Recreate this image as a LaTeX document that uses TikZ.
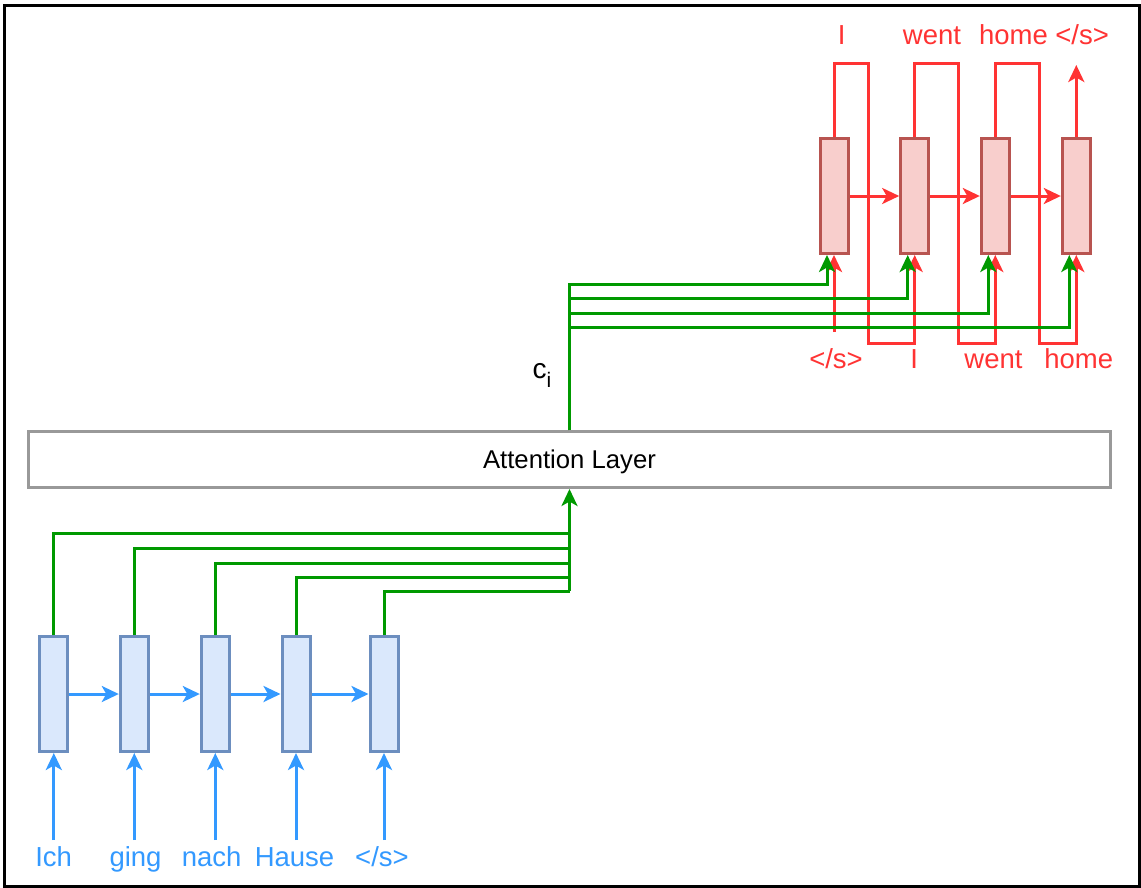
\documentclass[tikz,border=0pt]{standalone}
\usepackage{fontspec}
\setmainfont{Liberation Sans}
\usetikzlibrary{arrows.meta}
\definecolor{encfill}{HTML}{DAE8FC}
\definecolor{encdraw}{HTML}{6C8EBF}
\definecolor{decfill}{HTML}{F8CECC}
\definecolor{decdraw}{HTML}{B85450}
\definecolor{blu}{HTML}{3399FF}
\definecolor{rd}{HTML}{FF3333}
\definecolor{grn}{HTML}{009900}
\definecolor{attgray}{HTML}{999999}
\begin{document}
\begin{tikzpicture}[x=1pt,y=-1pt,
  tip/.style={-{Stealth[length=17pt,width=16pt,inset=4.5pt]}},
  encbox/.style={draw=encdraw, fill=encfill, line width=3pt, minimum width=28pt, minimum height=115pt, inner sep=0pt},
  decbox/.style={draw=decdraw, fill=decfill, line width=3pt, minimum width=28pt, minimum height=115pt, inner sep=0pt},
  lab/.style={font=\fontsize{27.5}{32}\selectfont, anchor=base, inner sep=0pt},
  bline/.style={draw=blu, line width=3pt, tip},
  rline/.style={draw=rd, line width=3pt},
  gline/.style={draw=grn, line width=3pt},
]
\useasboundingbox (0,0) rectangle (1141,887);
\draw[line width=3pt, black] (4,5) rectangle (1139,886);

% attention layer
\node[draw=attgray, line width=3pt, minimum width=1082pt, minimum height=56pt, inner sep=0pt,
      font=\fontsize{25.7}{30}\selectfont, text height=18.4pt, text depth=0pt] (att) at (569.5,459.5) {Attention Layer};

% encoder
\node[encbox] (e1) at (53.8,694) {};
\node[encbox] (e2) at (134.3,694) {};
\node[encbox] (e3) at (215.3,694) {};
\node[encbox] (e4) at (296,694) {};
\node[encbox] (e5) at (384,694) {};

\node[lab, text=blu] (i1) at (53.6,866) {Ich};
\node[lab, text=blu] (i2) at (135.5,866) {ging};
\node[lab, text=blu] (i3) at (211.7,866) {nach};
\node[lab, text=blu] (i4) at (294.5,866) {Hause};
\node[lab, text=blu] (i5) at (382,866) {</s>};

\draw[bline] (i1.base -| e1.south) ++(0,-26) -- (e1.south);
\draw[bline] (i2.base -| e2.south) ++(0,-26) -- (e2.south);
\draw[bline] (i3.base -| e3.south) ++(0,-26) -- (e3.south);
\draw[bline] (i4.base -| e4.south) ++(0,-26) -- (e4.south);
\draw[bline] (i5.base -| e5.south) ++(0,-26) -- (e5.south);

\draw[bline] (e1.east) -- (e2.west);
\draw[bline] (e2.east) -- (e3.west);
\draw[bline] (e3.east) -- (e4.west);
\draw[bline] (e4.east) -- (e5.west);

\coordinate (h1) at (569.5,533);
\coordinate (h2) at (569.5,548);
\coordinate (h3) at (569.5,563);
\coordinate (h4) at (569.5,577);
\coordinate (h5) at (569.5,591);
\draw[gline] (e1.north) |- (h1);
\draw[gline] (e2.north) |- (h2);
\draw[gline] (e3.north) |- (h3);
\draw[gline] (e4.north) |- (h4);
\draw[gline] (e5.north) |- (h5);
\draw[gline, tip] (h5) -- (att.south);

% decoder
\node[decbox] (d1) at (834,196) {};
\node[decbox] (d2) at (914.7,196) {};
\node[decbox] (d3) at (995.3,196) {};
\node[decbox] (d4) at (1076.3,196) {};

\node[lab, text=rd] (o1) at (841.7,44) {I};
\node[lab, text=rd] (o2) at (932,44) {went};
\node[lab, text=rd] (o3) at (1044,44) {home </s>};

\node[lab, text=rd] (b1) at (836,368) {</s>};
\node[lab, text=rd] (b2) at (914.3,368) {I};
\node[lab, text=rd] (b3) at (993.5,368) {went};
\node[lab, text=rd] (b4) at (1078.8,368) {home};

\draw[rline, tip] (d1.east) -- (d2.west);
\draw[rline, tip] (d2.east) -- (d3.west);
\draw[rline, tip] (d3.east) -- (d4.west);

\draw[rline, tip] (b1.base -| d1.south) ++(0,-36) -- (d1.south);
\draw[rline, tip] (d1.north) |- (868,63) -- (868,343) -| (d2.south);
\draw[rline, tip] (d2.north) |- (958,63) -- (958,343) -| (d3.south);
\draw[rline, tip] (d3.north) |- (1039,63) -- (1039,343) -| (d4.south);
\coordinate (dout) at (1076.3,65);
\draw[rline, tip] (d4.north) -- (dout);

\draw[gline, tip] (att.north) |- ([xshift=-7pt,yshift=-29pt]d1.south) -- ([xshift=-7pt]d1.south);
\draw[gline, tip] (att.north) |- ([xshift=-7pt,yshift=-43pt]d2.south) -- ([xshift=-7pt]d2.south);
\draw[gline, tip] (att.north) |- ([xshift=-7pt,yshift=-58pt]d3.south) -- ([xshift=-7pt]d3.south);
\draw[gline, tip] (att.north) |- ([xshift=-7pt,yshift=-72pt]d4.south) -- ([xshift=-7pt]d4.south);

\node[anchor=base west, inner sep=0pt] (ci) at (532.5,378) {\fontsize{28}{32}\selectfont c\raisebox{-9pt}{\fontsize{21}{24}\selectfont i}};
\end{tikzpicture}
\end{document}
